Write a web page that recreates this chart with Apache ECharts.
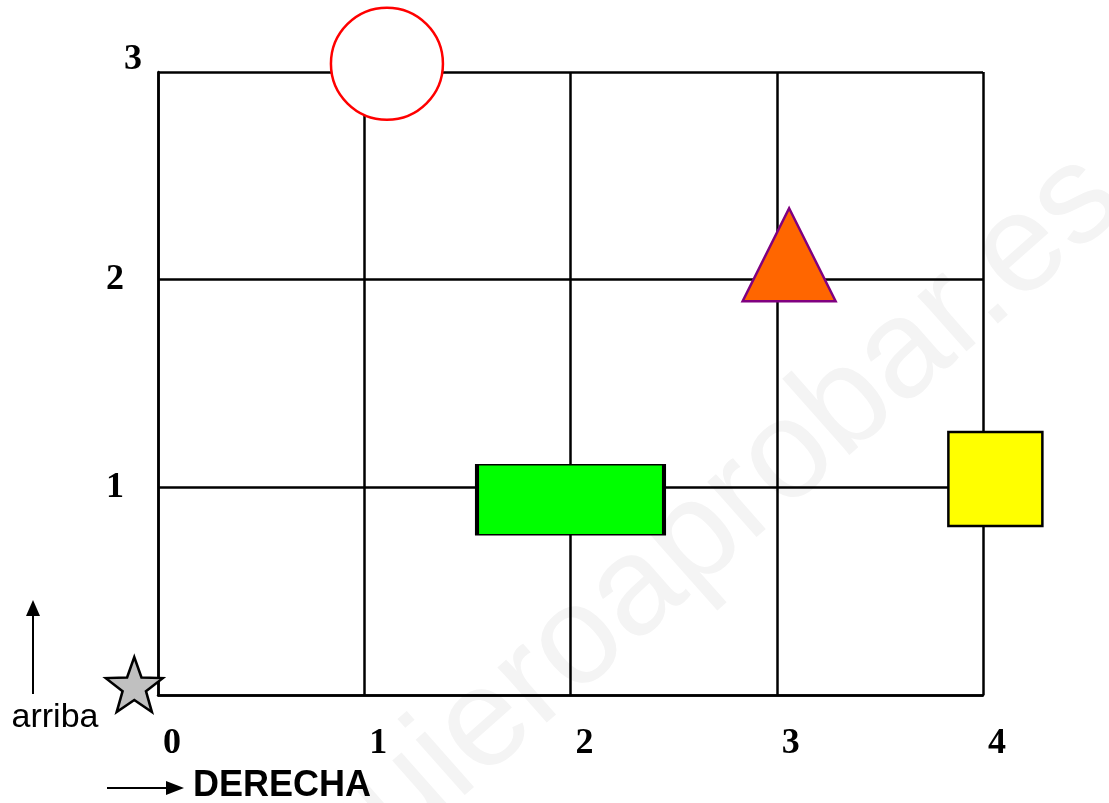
<!DOCTYPE html>
<html>
<head>
<meta charset="utf-8">
<script src="https://cdn.jsdelivr.net/npm/echarts@6/dist/echarts.min.js"></script>
<style>
  html, body { margin: 0; padding: 0; background: #fff; }
  #chart { width: 1109px; height: 803px; }
</style>
</head>
<body>
<div id="chart"></div>
<script>
// tick labels
const xTicks = [0, 1, 2, 3, 4];
const yTicks = [1, 2, 3];

// shape positions (grid units)
const circlePos = [1.11, 3.04];
const trianglePos = [3.06, 2.12];
const rectPos = [2.0, 0.94];
const squarePos = [4.06, 1.04];
const starPos = [-0.115, 0.05];

const starPath = 'path://M100,0 L124,67 L195.1,69.1 L139,112 L158.8,180.9 L100,141 L41.2,180.9 L61,112 L4.9,69.1 L76,67 Z';

const chart = echarts.init(document.getElementById('chart'));

const shape = (data, symbol, size, color, border, z) => ({
  type: 'scatter',
  data: [data],
  symbol,
  symbolSize: size,
  clip: false,
  silent: true,
  z,
  itemStyle: { color, borderColor: border, borderWidth: 2.5, opacity: 1 }
});

const tickFont = { fontFamily: 'Liberation Serif', fontWeight: 'bold', fontSize: 36, color: '#000' };

const option = {
  backgroundColor: '#fff',
  animation: false,
  grid: { left: 158, right: 126, top: 72, bottom: 108 },
  xAxis: {
    type: 'value',
    min: 0, max: 4, interval: 1,
    axisLine: { show: true, lineStyle: { color: '#000', width: 2.5 } },
    axisTick: { show: false },
    splitLine: { show: true, lineStyle: { color: '#000', width: 2.5 } },
    axisLabel: Object.assign({}, tickFont, {
      margin: 31,
      formatter: v => xTicks.includes(v) ? '{t|' + v + '}' : '',
      rich: {
        t: Object.assign({}, tickFont, { padding: [0, 0, 0, 28] })
      }
    })
  },
  yAxis: {
    type: 'value',
    min: 0, max: 3, interval: 1,
    axisLine: { show: true, lineStyle: { color: '#000', width: 2.5 } },
    axisTick: { show: false },
    splitLine: { show: true, lineStyle: { color: '#000', width: 2.5 } },
    axisLabel: Object.assign({}, tickFont, {
      margin: 16,
      formatter: v => yTicks.includes(v) ? (v === 3 ? '{top|3}' : '{t|' + v + '}') : '',
      rich: {
        t: Object.assign({}, tickFont, { padding: [0, 18, 0, 0] }),
        top: Object.assign({}, tickFont, { padding: [0, 0, 24, 0] })
      }
    })
  },
  graphic: [
    {
      type: 'text', z: -10, silent: true,
      x: 362, y: 928, rotation: Math.PI * 41.5 / 180,
      style: {
        text: 'quieroaprobar.es', fill: '#f4f4f4',
        font: '140px "Liberation Sans", Arial, sans-serif',
        textVerticalAlign: 'bottom'
      }
    },
    {
      type: 'line', silent: true,
      shape: { x1: 33, y1: 694, x2: 33, y2: 612 },
      style: { stroke: '#000', lineWidth: 2 }
    },
    {
      type: 'polygon', silent: true,
      shape: { points: [[33, 600], [26, 616], [40, 616]] },
      style: { fill: '#000' }
    },
    {
      type: 'text', silent: true, x: 55, y: 718,
      style: { text: 'arriba', fill: '#000', font: '34px "Liberation Sans", Arial, sans-serif', align: 'center', verticalAlign: 'middle' }
    },
    {
      type: 'line', silent: true,
      shape: { x1: 107, y1: 788, x2: 170, y2: 788 },
      style: { stroke: '#000', lineWidth: 2 }
    },
    {
      type: 'polygon', silent: true,
      shape: { points: [[184, 788], [166, 781], [166, 795]] },
      style: { fill: '#000' }
    },
    {
      type: 'text', silent: true, x: 193, y: 786,
      style: { text: 'DERECHA', fill: '#000', font: 'bold 36px "Liberation Sans", Arial, sans-serif', align: 'left', verticalAlign: 'middle' }
    }
  ],
  series: [
    shape(circlePos, 'circle', 112, '#fff', '#ff0000', 5),
    shape(trianglePos, 'triangle', [93, 93], '#ff6600', '#800080', 5),
    shape(rectPos, 'rect', [187, 70], '#00ff00', '#000', 5),
    shape(squarePos, 'rect', [94, 94], '#ffff00', '#000', 5),
    shape(starPos, starPath, [57, 55], '#c0c0c0', '#000', 5)
  ]
};

chart.setOption(option);
</script>
</body>
</html>
